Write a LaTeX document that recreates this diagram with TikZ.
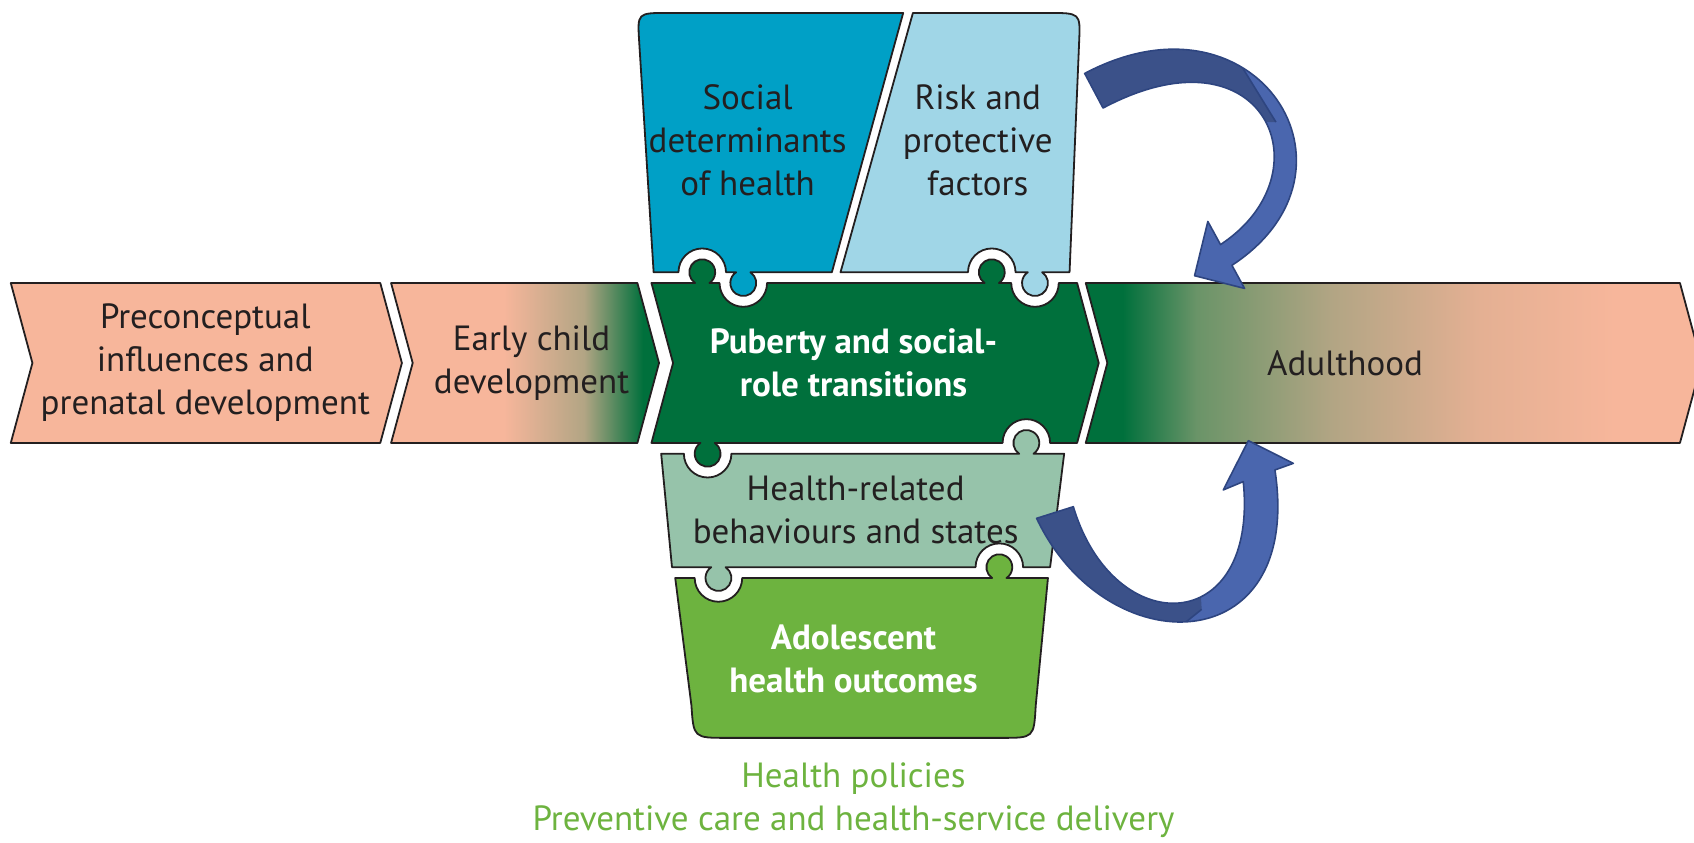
\documentclass[tikz,border=0pt]{standalone}
\usepackage{fontspec}
\setmainfont{PT Sans}
\definecolor{ink}{HTML}{231F20}
\definecolor{salmon}{HTML}{F7B69B}
\definecolor{peach}{HTML}{E4B093}
\definecolor{tanmid}{HTML}{B2A584}
\definecolor{olivemid}{HTML}{6A9468}
\definecolor{pgreen}{HTML}{00703C}
\definecolor{socblue}{HTML}{00A0C6}
\definecolor{riskblue}{HTML}{A0D6E7}
\definecolor{sage}{HTML}{96C3AA}
\definecolor{adgreen}{HTML}{6DB33F}
\definecolor{arrowfill}{HTML}{4A66AE}
\definecolor{arrowdark}{HTML}{3B5189}
\definecolor{arrowline}{HTML}{2E4580}
\pgfdeclarehorizontalshading{earlyshade}{100bp}{color(0bp)=(salmon); color(46bp)=(salmon); color(61bp)=(tanmid); color(72bp)=(pgreen); color(100bp)=(pgreen)}
\pgfdeclarehorizontalshading{adultshade}{100bp}{color(0bp)=(pgreen); color(28bp)=(pgreen); color(34bp)=(olivemid); color(45bp)=(tanmid); color(57bp)=(peach); color(68bp)=(salmon); color(100bp)=(salmon)}
% puzzle tabs: centre x, edge y
\newcommand{\knobup}[2]{-- (#1-6.63,#2) arc[start angle=236.44, end angle=-56.44, radius=12]}
\newcommand{\knobdn}[2]{-- (#1+6.63,#2) arc[start angle=56.44, end angle=-236.44, radius=12]}
\newcommand{\notchup}[2]{-- (#1+22,#2) arc[start angle=0, end angle=180, radius=22]}
\newcommand{\notchdn}[2]{-- (#1-22,#2) arc[start angle=180, end angle=360, radius=22]}
\tikzset{
  piece/.style={draw=ink, line width=1.8pt, line join=round},
  lbl/.style={text=ink, align=center, font=\fontsize{35}{43}\selectfont},
  lblw/.style={text=white, align=center, font=\bfseries\fontsize{35}{43}\selectfont},
  arrowtip/.style={fill=arrowfill, draw=arrowline, line width=1.6pt, line join=round},
  twist/.style={draw=arrowline, line width=1.6pt}
}
\begin{document}
\begin{tikzpicture}[x=1.0804pt,y=1.0804pt]
  \useasboundingbox (0,63) rectangle (1568,843);
  % life course band
  \filldraw[piece, fill=salmon] (10,581) -- (352,581) -- (372,507) -- (352,433) -- (10,433) -- (30,507) -- cycle;
  \shadedraw[piece, shading=earlyshade] (362,581) -- (590,581) -- (610,507) -- (590,433) -- (362,433) -- (382,507) -- cycle;
  \filldraw[piece, fill=pgreen] (603,433) -- (623,507) -- (603,581) \knobup{650}{581} \notchdn{688}{581}
    \knobup{918}{581} \notchdn{958}{581} -- (997,581) -- (1017,507) -- (997,433) \notchup{950}{433} \knobdn{655}{433} -- cycle;
  \shadedraw[piece, shading=adultshade] (1005,581) -- (1555,581) -- (1575,507) -- (1555,433) -- (1005,433) -- (1025,507) -- cycle;
  % puzzle pieces
  \filldraw[piece, fill=socblue] (605,591) -- (591.6,805) .. controls (590,831) .. (618,831) -- (836,831) -- (770,591)
    \knobdn{688}{591} \notchup{650}{591} -- cycle;
  \filldraw[piece, fill=riskblue] (778,591) -- (845,831) -- (970,831) .. controls (1000,831) .. (998.9,805) -- (990,591)
    \knobdn{958}{591} \notchup{918}{591} -- cycle;
  \filldraw[piece, fill=sage] (612,423) \notchdn{655}{423} \knobup{950}{423} -- (985,423) -- (972,318)
    \notchup{925}{318} \knobdn{665}{318} -- (622,318) -- cycle;
  \filldraw[piece, fill=adgreen] (625,308) \notchdn{665}{308} \knobup{925}{308} -- (970,308) -- (958.7,190)
    .. controls (957,160) .. (927,160) -- (673,160) .. controls (642,160) .. (640,190) -- cycle;
  % labels
  \node[lbl] (pre) at (190,507) {Preconceptual\\influences and\\prenatal development};
  \node[lbl] (early) at (492,507) {Early child\\development};
  \node[lblw] (puberty) at (790,507) {Puberty and social-\\role transitions};
  \node[lbl] (adult) at (1245,507) {Adulthood};
  \node[lbl] (social) at (692,713) {Social\\determinants\\of health};
  \node[lbl] (risk) at (905,713) {Risk and\\protective\\factors};
  \node[lbl] (health) at (792,371) {Health-related\\behaviours and states};
  \node[lblw] (outcome) at (790,233) {Adolescent\\health outcomes};
  \node[lbl, text=adgreen] (policy) at (790,102) {Health policies\\Preventive care and health-service delivery};
  % feedback arrows
  \coordinate (riskA) at (1004,775);
  \coordinate (riskB) at (1021,743);
  \coordinate (adultA) at (1105.7,587.8);
  \filldraw[arrowtip, path picture={
      \fill[arrowdark] (990,860) -- (1101,860) -- (1181,730) -- (990,730) -- cycle;
      \draw[twist] (1101,860) -- (1181,730);}]
    (riskA) .. controls (1163,859.4) and (1274,685) .. (1140.3,597.4) -- (1152,576) -- (adultA) -- (1118,638)
    -- (1129.7,616.6) .. controls (1230,682.4) and (1171,822.7) .. (riskB) -- cycle;
  \coordinate (healthA) at (959.5,363.2);
  \coordinate (healthB) at (993.5,374);
  \coordinate (adultB) at (1155.5,435.1);
  \filldraw[arrowtip, path picture={
      \fill[arrowdark] (940,403) -- (1105,403) -- (1112.3,279) -- (1080,253) -- (1080,243) -- (940,243) -- cycle;
      \draw[twist] (1112.3,279) -- (1080,253);}]
    (healthA) .. controls (1023.7,227.6) and (1207.1,229.8) .. (1180.1,408) -- (1197.1,414.1) -- (adultB) -- (1132.3,389.5)
    -- (1150.8,397.2) .. controls (1165,253) and (1030.7,249.5) .. (healthB) -- cycle;
\end{tikzpicture}
\end{document}
